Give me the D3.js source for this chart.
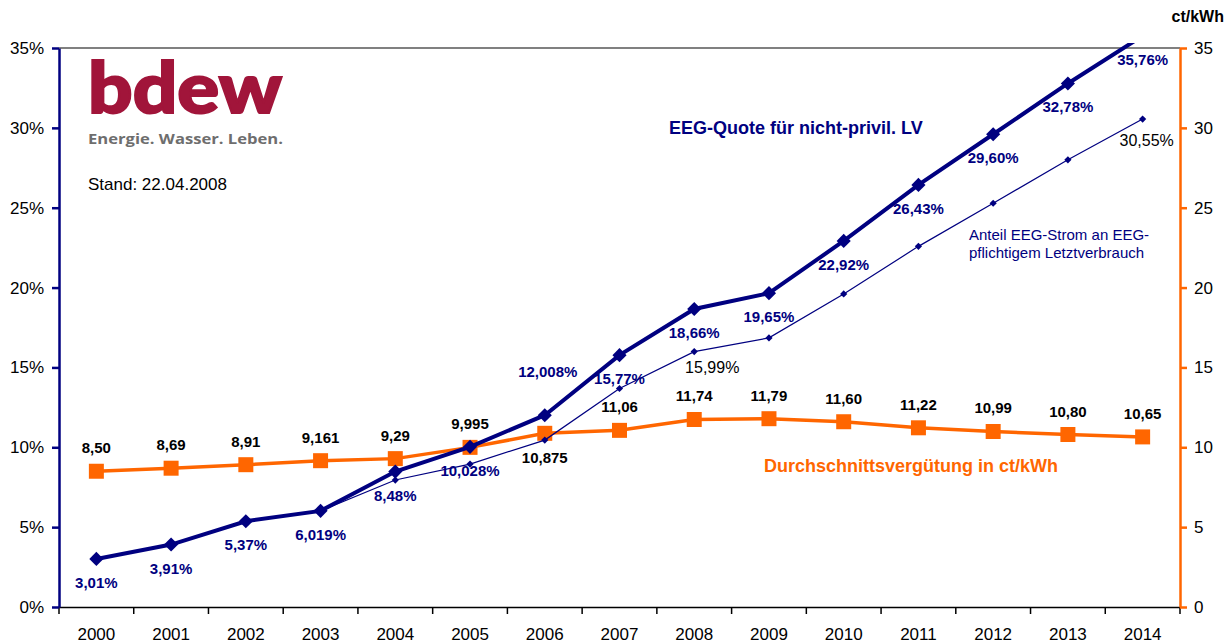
<!DOCTYPE html>
<html lang="de">
<head>
    <meta charset="UTF-8">
    <title>EEG-Quote und Durchschnittsvergütung</title>
    <style>
        body {
            margin: 0;
            padding: 0;
            background: #fff;
        }

        svg {
            display: block;
            font-family: "Liberation Sans", Arial, sans-serif;
        }
    </style>
</head>
<body>

<svg id="chart"></svg>

<script src="https://d3js.org/d3.v7.min.js"></script>
<script>
    // chart values
    const years = ["2000", "2001", "2002", "2003", "2004", "2005", "2006", "2007",
        "2008", "2009", "2010", "2011", "2012", "2013", "2014"];

    // EEG-Quote für nicht-privil. LV (%)
    const eegQuote = [3.01, 3.91, 5.37, 6.019, 8.48, 10.028, 12.008, 15.77,
        18.66, 19.65, 22.92, 26.43, 29.60, 32.78, 35.76];
    const eegQuoteLabels = ["3,01%", "3,91%", "5,37%", "6,019%", "8,48%", "10,028%", "12,008%", "15,77%",
        "18,66%", "19,65%", "22,92%", "26,43%", "29,60%", "32,78%", "35,76%"];

    // Anteil EEG-Strom an EEG-pflichtigem Letztverbrauch (%)
    const eegAnteil = [null, null, null, 6.019, 7.95, 8.95, 10.45, 13.68,
        15.99, 16.85, 19.6, 22.58, 25.28, 28.0, 30.55];
    const eegAnteilLabels = [null, null, null, null, null, null, null, null,
        "15,99%", null, null, null, null, null, "30,55%"];

    // Durchschnittsvergütung in ct/kWh
    const verguetung = [8.50, 8.69, 8.91, 9.161, 9.29, 9.995, 10.875, 11.06,
        11.74, 11.79, 11.60, 11.22, 10.99, 10.80, 10.65];
    const verguetungLabels = ["8,50", "8,69", "8,91", "9,161", "9,29", "9,995", "10,875", "11,06",
        "11,74", "11,79", "11,60", "11,22", "10,99", "10,80", "10,65"];

    const leftTicks = [0, 5, 10, 15, 20, 25, 30, 35];
    const rightTicks = [0, 5, 10, 15, 20, 25, 30, 35];

    const navy = "#000080";
    const orange = "#ff6600";

    const width = 1228, height = 643;
    const plotLeft = 59, plotRight = 1180, plotTop = 48, plotBottom = 607;

    const svg = d3.select("#chart")
        .attr("width", width)
        .attr("height", height);

    svg.append("rect")
        .attr("width", width)
        .attr("height", height)
        .attr("fill", "#fff");

    const x = d3.scaleBand().domain(years).range([plotLeft, plotRight]);
    const xc = d => x(d) + x.bandwidth() / 2;
    const yL = d3.scaleLinear().domain([0, 35]).range([plotBottom, plotTop]);
    const yR = d3.scaleLinear().domain([0, 35]).range([plotBottom, plotTop]);

    // clip so the last EEG-Quote point runs off the top
    svg.append("clipPath").attr("id", "clip")
        .append("rect")
        .attr("x", 0).attr("y", plotTop - 5)
        .attr("width", width).attr("height", height);

    // top frame line
    svg.append("line")
        .attr("x1", plotLeft).attr("x2", plotRight)
        .attr("y1", plotTop).attr("y2", plotTop)
        .attr("stroke", "#808080")
        .attr("stroke-width", 2);

    // bottom axis
    const xAxis = svg.append("g")
        .attr("transform", `translate(0,${plotBottom})`)
        .call(d3.axisBottom(x).tickSize(0).tickPadding(21));
    xAxis.select(".domain").attr("stroke", "#000").attr("stroke-width", 1.5);
    xAxis.selectAll("text").attr("font-size", 17).attr("fill", "#000")
        .attr("font-family", "'Liberation Sans', Arial, sans-serif");

    svg.append("g").selectAll("line")
        .data(years.concat(["end"]))
        .enter()
        .append("line")
        .attr("x1", d => d === "end" ? plotRight : x(d))
        .attr("x2", d => d === "end" ? plotRight : x(d))
        .attr("y1", plotBottom)
        .attr("y2", plotBottom + 7)
        .attr("stroke", "#000")
        .attr("stroke-width", 1.5);

    // left axis
    const yAxisL = svg.append("g")
        .attr("transform", `translate(${plotLeft},0)`)
        .call(d3.axisLeft(yL).tickValues(leftTicks).tickFormat(d => d + "%")
            .tickSize(7).tickSizeOuter(0).tickPadding(8));
    yAxisL.selectAll(".domain, line").attr("stroke", navy).attr("stroke-width", 2.5);
    yAxisL.selectAll("text").attr("font-size", 17).attr("fill", "#000")
        .attr("font-family", "'Liberation Sans', Arial, sans-serif");

    // right axis
    const yAxisR = svg.append("g")
        .attr("transform", `translate(${plotRight},0)`)
        .call(d3.axisRight(yR).tickValues(rightTicks)
            .tickSize(7).tickSizeOuter(0).tickPadding(7));
    yAxisR.selectAll(".domain, line").attr("stroke", orange).attr("stroke-width", 2.5);
    yAxisR.selectAll("text").attr("font-size", 17).attr("fill", "#000")
        .attr("font-family", "'Liberation Sans', Arial, sans-serif");

    svg.append("text")
        .attr("x", 1224).attr("y", 22)
        .attr("text-anchor", "end")
        .attr("font-size", 16).attr("font-weight", "bold")
        .text("ct/kWh");

    const plot = svg.append("g").attr("clip-path", "url(#clip)");

    // Durchschnittsvergütung
    const orangeData = years.map((y, i) => ({ year: y, v: verguetung[i], label: verguetungLabels[i] }));
    plot.append("path")
        .datum(orangeData)
        .attr("fill", "none")
        .attr("stroke", orange)
        .attr("stroke-width", 3.5)
        .attr("d", d3.line().x(d => xc(d.year)).y(d => yR(d.v)));
    plot.selectAll(".sq")
        .data(orangeData)
        .enter()
        .append("path")
        .attr("class", "sq")
        .attr("transform", d => `translate(${xc(d.year)},${yR(d.v)})`)
        .attr("d", d3.symbol(d3.symbolSquare, 225))
        .attr("fill", orange);

    // Anteil EEG-Strom (thin)
    const thinData = years.map((y, i) => ({ year: y, v: eegAnteil[i], label: eegAnteilLabels[i] }))
        .filter(d => d.v != null);
    plot.append("path")
        .datum(thinData)
        .attr("fill", "none")
        .attr("stroke", navy)
        .attr("stroke-width", 1.2)
        .attr("d", d3.line().x(d => xc(d.year)).y(d => yL(d.v)));
    plot.selectAll(".dm")
        .data(thinData)
        .enter()
        .append("path")
        .attr("class", "dm")
        .attr("transform", d => `translate(${xc(d.year)},${yL(d.v)}) rotate(45)`)
        .attr("d", d3.symbol(d3.symbolSquare, 26))
        .attr("fill", navy);

    // EEG-Quote (thick)
    const thickData = years.map((y, i) => ({ year: y, v: eegQuote[i], label: eegQuoteLabels[i] }));
    plot.append("path")
        .datum(thickData)
        .attr("fill", "none")
        .attr("stroke", navy)
        .attr("stroke-width", 4)
        .attr("d", d3.line().x(d => xc(d.year)).y(d => yL(d.v)));
    plot.selectAll(".dd")
        .data(thickData)
        .enter()
        .append("path")
        .attr("class", "dd")
        .attr("transform", d => `translate(${xc(d.year)},${yL(d.v)}) rotate(45)`)
        .attr("d", d3.symbol(d3.symbolSquare, 100))
        .attr("fill", navy);

    // value labels
    svg.append("g").selectAll("text")
        .data(orangeData)
        .enter()
        .append("text")
        .attr("x", d => xc(d.year))
        .attr("y", d => d.year === "2006" ? yR(d.v) + 30 : yR(d.v) - 18)
        .attr("text-anchor", "middle")
        .attr("font-size", 15).attr("font-weight", "bold")
        .attr("fill", "#000")
        .text(d => d.label);

    svg.append("g").selectAll("text")
        .data(thickData)
        .enter()
        .append("text")
        .attr("x", d => d.year === "2006" ? xc(d.year) + 3 : xc(d.year))
        .attr("y", d => d.year === "2006" ? yL(d.v) - 38 : yL(d.v) + 29)
        .attr("text-anchor", "middle")
        .attr("font-size", 15).attr("font-weight", "bold")
        .attr("fill", navy)
        .text(d => d.label);

    svg.append("g").selectAll("text")
        .data(thinData.filter(d => d.label))
        .enter()
        .append("text")
        .attr("x", d => d.year === "2008" ? xc(d.year) + 18 : xc(d.year) + 4)
        .attr("y", d => d.year === "2008" ? yL(d.v) + 21 : yL(d.v) + 27)
        .attr("text-anchor", "middle")
        .attr("font-size", 16)
        .attr("fill", "#000")
        .text(d => d.label);

    // series names
    svg.append("text")
        .attr("x", 669).attr("y", 134)
        .attr("font-size", 18).attr("font-weight", "bold")
        .attr("fill", navy)
        .text("EEG-Quote für nicht-privil. LV");

    const anteil = svg.append("text")
        .attr("x", 969).attr("y", 240)
        .attr("font-size", 15)
        .attr("fill", navy);
    anteil.append("tspan").attr("x", 969).text("Anteil EEG-Strom an EEG-");
    anteil.append("tspan").attr("x", 969).attr("dy", 18).text("pflichtigem Letztverbrauch");

    svg.append("text")
        .attr("x", 764).attr("y", 472)
        .attr("font-size", 18).attr("font-weight", "bold")
        .attr("fill", orange)
        .text("Durchschnittsvergütung in ct/kWh");

    // logo + date
    svg.append("text")
        .attr("x", 88).attr("y", 113)
        .attr("font-family", "Lato, 'Open Sans', sans-serif")
        .attr("font-size", 70).attr("font-weight", 900)
        .attr("fill", "#a1153a")
        .attr("stroke", "#a1153a").attr("stroke-width", 2)
        .attr("textLength", 194).attr("lengthAdjust", "spacingAndGlyphs")
        .text("bdew");

    svg.append("text")
        .attr("x", 88).attr("y", 144)
        .attr("font-family", "'Open Sans', 'Liberation Sans', sans-serif")
        .attr("font-size", 15).attr("font-weight", "bold")
        .attr("fill", "#6e6e6e")
        .attr("textLength", 195).attr("lengthAdjust", "spacingAndGlyphs")
        .text("Energie. Wasser. Leben.");

    svg.append("text")
        .attr("x", 88).attr("y", 190)
        .attr("font-size", 17)
        .attr("fill", "#000")
        .text("Stand: 22.04.2008");
</script>

</body>
</html>
